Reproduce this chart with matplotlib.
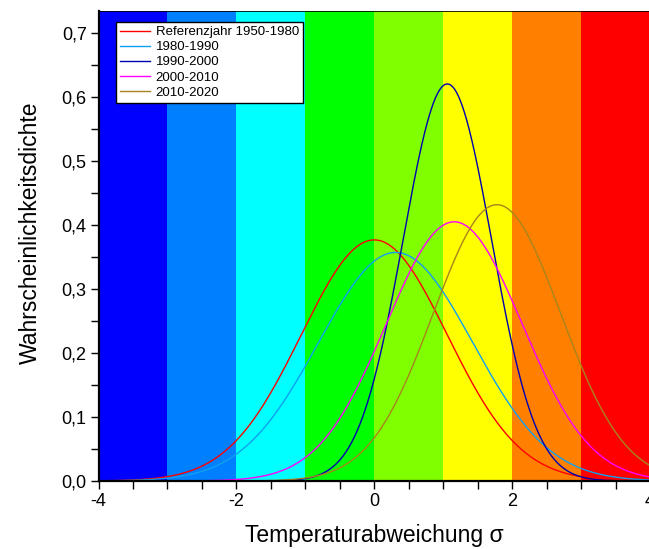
import matplotlib.pyplot as plt
import numpy as np
from matplotlib.ticker import MultipleLocator, FuncFormatter

plt.rcParams['font.family'] = ['Liberation Sans', 'DejaVu Sans']

# Farbbänder im Hintergrund (Grenzen in sigma)
band_edges = [-4, -3, -2, -1, 0, 1, 2, 3, 4]
band_colors = ['#0000ff', '#0080ff', '#00ffff', '#00ff00',
               '#80ff00', '#ffff00', '#ff8000', '#ff0000']

# Normalverteilungen je Zeitraum (Mittelwert, Standardabweichung)
perioden = ['Referenzjahr 1950-1980', '1980-1990', '1990-2000', '2000-2010', '2010-2020']
mittelwerte = [0.0, 0.31, 1.06, 1.16, 1.78]
std_abw = [1.059, 1.117, 0.643, 0.985, 0.924]
farben = ['#ff0000', '#10a0f0', '#0000b0', '#ff00ff', '#a8841c']


def dichte(x, mu, s):
    return np.exp(-0.5 * ((x - mu) / s) ** 2) / (s * np.sqrt(2 * np.pi))


fig = plt.figure(figsize=(6.49, 5.49), dpi=100)
ax = fig.add_axes([98.5 / 649, 68 / 549, 551.5 / 649, 470 / 549])

# Hintergrund
for i, c in enumerate(band_colors):
    ax.axvspan(band_edges[i], band_edges[i + 1], color=c, lw=0, zorder=0)

x = np.linspace(-4, 4, 801)
for name, mu, s, c in zip(perioden, mittelwerte, std_abw, farben):
    ax.plot(x, dichte(x, mu, s), color=c, lw=1.0, label=name, zorder=2)

ax.set_xlim(-4, 4)
ax.set_ylim(0, 0.7344)

ax.xaxis.set_major_locator(MultipleLocator(2))
ax.xaxis.set_minor_locator(MultipleLocator(0.5))
ax.yaxis.set_major_locator(MultipleLocator(0.1))
ax.yaxis.set_minor_locator(MultipleLocator(0.05))
ax.yaxis.set_major_formatter(FuncFormatter(lambda v, p: f'{v:.1f}'.replace('.', ',')))
ax.xaxis.set_major_formatter(FuncFormatter(lambda v, p: f'{v:.0f}'))

ax.tick_params(which='both', direction='out', length=5.5, width=1.0, labelsize=13, pad=3)
ax.tick_params(top=False, right=False)

for side in ['left', 'bottom']:
    ax.spines[side].set_linewidth(1.6)
ax.spines['top'].set_linewidth(0.6)
ax.spines['right'].set_visible(False)

ax.set_xlabel('Temperaturabweichung σ', fontsize=16.5, labelpad=10)
ax.set_ylabel('Wahrscheinlichkeitsdichte', fontsize=16.5, labelpad=14)
ax.yaxis.label.set_y(0.528)

leg = ax.legend(loc='upper left', bbox_to_anchor=(17.5 / 551.5, 1 - 11 / 470),
                fontsize=9.5, frameon=True, fancybox=False, framealpha=1,
                edgecolor='black', handlelength=2.3, handletextpad=0.4,
                labelspacing=0.22, borderpad=0.3, borderaxespad=0)
leg.get_frame().set_linewidth(1.0)

fig.savefig('out.png', dpi=100)
